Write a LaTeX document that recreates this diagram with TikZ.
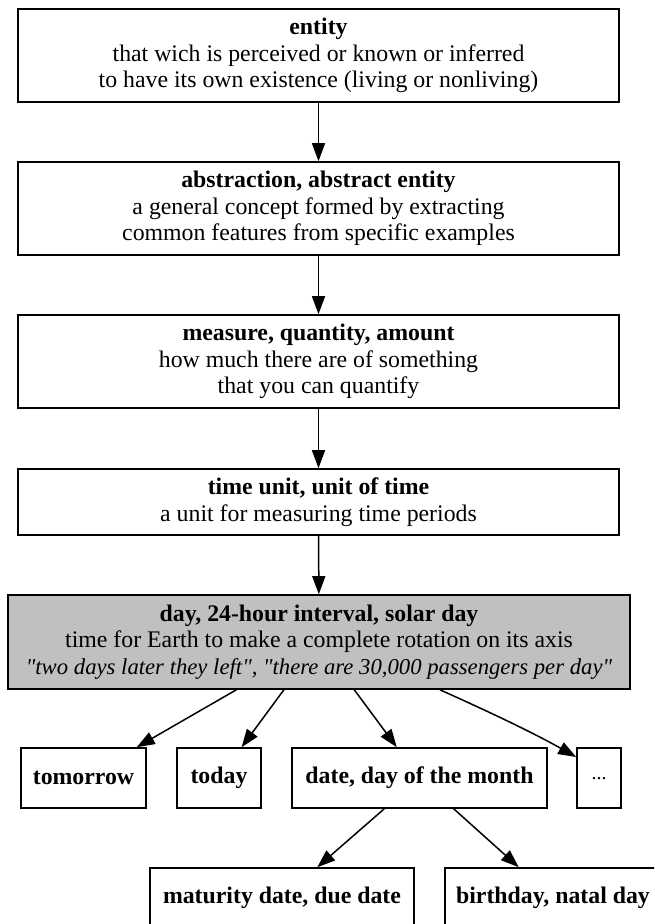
\documentclass[tikz,border=0pt]{standalone}
\usepackage{fontspec}
\setmainfont{Liberation Serif}
\newfontfamily\quotefont{Liberation Serif}
\usetikzlibrary{arrows.meta}
\definecolor{dayfill}{HTML}{C0C0C0}
\begin{document}
\begin{tikzpicture}[x=1pt,y=-1pt,
  box/.style={draw=black, line width=1.6pt, align=center, inner sep=0pt,
    font=\fontsize{23.8}{26.5}\selectfont},
  tallbox/.style={box, minimum width=601pt, minimum height=93pt},
  leaf/.style={box, minimum height=60pt},
  arr/.style={line width=1.5pt, -{Triangle[length=18pt,width=13pt]}}]
\useasboundingbox (0,0) rectangle (654,924);
\fill[white] (0,0) rectangle (654,924);
\clip (0,0) rectangle (654,924);

\node[tallbox] (entity) at (318.5,55.5)
  {\textbf{entity}\\that wich is perceived or known or inferred\\to have its own existence (living or nonliving)};
\node[tallbox] (abstraction) at (318.5,208.5)
  {\textbf{abstraction, abstract entity}\\a general concept formed by extracting\\common features from specific examples};
\node[tallbox] (measure) at (318.5,361.5)
  {\textbf{measure, quantity, amount}\\how much there are of something\\that you can quantify};
\node[box, minimum width=601pt, minimum height=66pt] (timeunit) at (318.5,502)
  {\textbf{time unit, unit of time}\\a unit for measuring time periods};
\node[box, fill=dayfill, minimum width=622pt, minimum height=94pt] (day) at (319,642)
  {\textbf{day, 24-hour interval, solar day}\\time for Earth to make a complete rotation on its axis\\
   {\quotefont\fontsize{22.7}{26.5}\selectfont\itshape "two days later they left", "there are 30,000 passengers per day"}};

\node[leaf, minimum width=125pt] (tomorrow) at (83.5,778) {\textbf{tomorrow}};
\node[leaf, minimum width=84pt] (today) at (219,778) {\textbf{today}};
\node[leaf, minimum width=255pt] (date) at (419.5,778) {\textbf{date, day of the month}};
\node[leaf, minimum width=44pt] (dots) at (599,778) {\fontsize{20}{24}\selectfont\raisebox{-3pt}{...}};
\node[leaf, minimum width=264pt] (maturity) at (282,898) {\textbf{maturity date, due date}};
\node[leaf, minimum width=216pt] (birthday) at (553,898) {\textbf{birthday, natal day}};

\draw[arr] (entity) -- (abstraction);
\draw[arr] (abstraction) -- (measure);
\draw[arr] (measure) -- (timeunit);
\draw[arr] (timeunit) -- (day);
\draw[arr] (day) -- (tomorrow);
\draw[arr] (day) -- (today);
\draw[arr] (day) -- (date);
\draw[arr] (day.south -| 440,0) .. controls (485,710) and (530,731) .. (dots.west |- 0,757);
\draw[arr] (date) -- (maturity);
\draw[arr] (date) -- (birthday);
\end{tikzpicture}
\end{document}
